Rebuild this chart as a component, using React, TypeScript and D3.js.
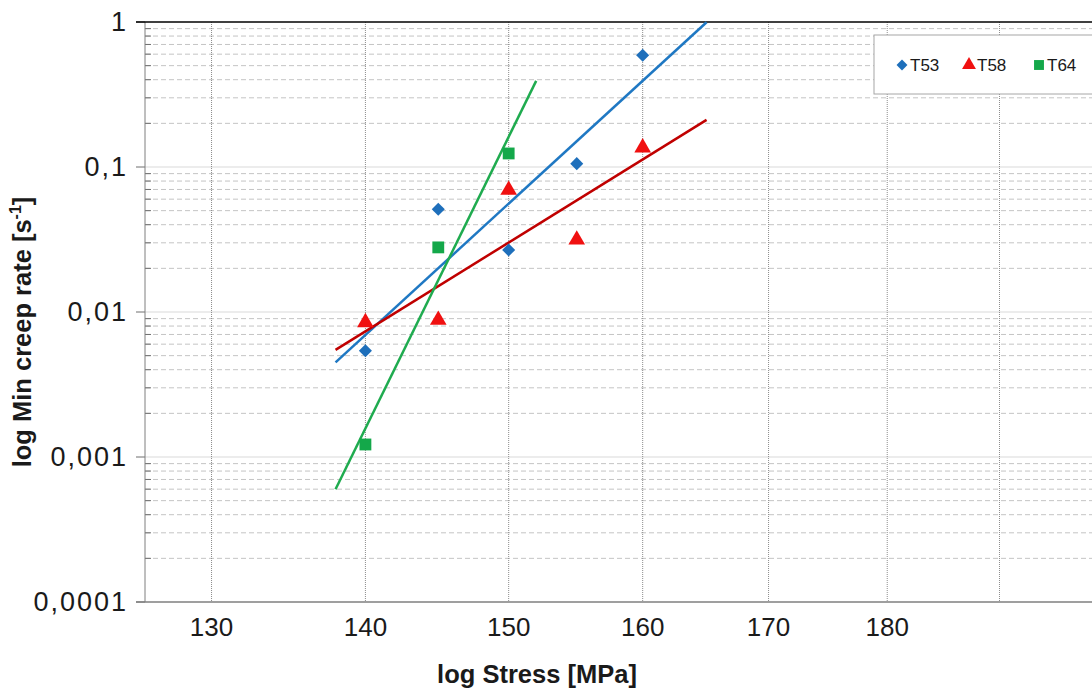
import React, { Component } from "react";
import * as d3 from "d3";

// stress levels [MPa] and minimum creep rates [1/s]
const stress = [140, 145, 150, 155, 160];
const t53 = [0.0054, 0.0512, 0.0268, 0.1055, 0.589];
const t58 = [0.00848, 0.0088, 0.0694, 0.0315, 0.136];
const stressT64 = [140, 145, 150];
const t64 = [0.00122, 0.0279, 0.124];

const seriesNames = ["T53", "T58", "T64"];
const trendFrom = [138, 138, 138];
const trendTo = [165, 165, 152];

const xTicks = [130, 140, 150, 160, 170, 180, 190];
const xTickLabels = ["130", "140", "150", "160", "170", "180", ""];
const yTicks = [0.0001, 0.001, 0.01, 0.1, 1];
const yTickLabels = ["0,0001", "0,001", "0,01", "0,1", "1"];

const FONT = "'Liberation Sans', Arial, sans-serif";

// power trend line: least squares on log-log
const powerFit = (xs: number[], ys: number[]) => {
  const lx = xs.map((v) => Math.log10(v));
  const ly = ys.map((v) => Math.log10(v));
  const mx = d3.mean(lx) as number;
  const my = d3.mean(ly) as number;
  const sxy = d3.sum(lx, (v, i) => (v - mx) * (ly[i] - my));
  const sxx = d3.sum(lx, (v) => (v - mx) * (v - mx));
  const b = sxy / sxx;
  return (xv: number) => Math.pow(10, my + b * (Math.log10(xv) - mx));
};

class CreepChart extends Component {
  chart = React.createRef<HTMLDivElement>();

  componentDidMount() {
    this.drawChart(this.chart);
  }

  drawChart = (element: React.RefObject<HTMLDivElement>) => {
    const width = 1092;
    const height = 689;
    const left = 145;
    const top = 22;
    const bottom = 602;

    d3.select(element.current).selectAll("*").remove();
    const svg = d3
      .select(element.current)
      .append("svg")
      .attr("width", width)
      .attr("height", height)
      .style("display", "block")
      .style("font-family", FONT);

    svg.append("rect").attr("width", width).attr("height", height).attr("fill", "#fff");

    const x = d3.scaleLog().domain([125.9, 200]).range([left, 1106]);
    const y = d3.scaleLog().domain([0.0001, 1]).range([bottom, top]);

    // minor horizontal grid
    const minor: number[] = [];
    yTicks.slice(0, -1).forEach((d) => {
      for (let m = 2; m <= 9; m++) minor.push(m * d);
    });
    svg
      .append("g")
      .selectAll("line")
      .data(minor)
      .enter()
      .append("line")
      .attr("x1", left)
      .attr("x2", width)
      .attr("y1", (d) => y(d))
      .attr("y2", (d) => y(d))
      .attr("stroke", "#c4c4c4")
      .attr("stroke-dasharray", "5,3");

    // major horizontal grid
    svg
      .append("g")
      .selectAll("line")
      .data(yTicks.slice(1, -1))
      .enter()
      .append("line")
      .attr("x1", left)
      .attr("x2", width)
      .attr("y1", (d) => y(d))
      .attr("y2", (d) => y(d))
      .attr("stroke", "#d9d9d9");

    // vertical grid
    svg
      .append("g")
      .selectAll("line")
      .data(xTicks)
      .enter()
      .append("line")
      .attr("x1", (d) => x(d))
      .attr("x2", (d) => x(d))
      .attr("y1", top)
      .attr("y2", bottom)
      .attr("stroke", "#8c8c8c")
      .attr("stroke-dasharray", "1,1");

    // minor ticks inside
    svg
      .append("g")
      .selectAll("line")
      .data(minor)
      .enter()
      .append("line")
      .attr("x1", left)
      .attr("x2", left + 6)
      .attr("y1", (d) => y(d))
      .attr("y2", (d) => y(d))
      .attr("stroke", "#6e6e6e");

    // major ticks outside
    svg
      .append("g")
      .selectAll("line")
      .data(yTicks)
      .enter()
      .append("line")
      .attr("x1", left - 9)
      .attr("x2", left)
      .attr("y1", (d) => y(d))
      .attr("y2", (d) => y(d))
      .attr("stroke", "#6e6e6e");

    // axes and top border
    svg.append("line").attr("x1", left).attr("x2", left).attr("y1", top).attr("y2", bottom).attr("stroke", "#7f7f7f");
    svg.append("line").attr("x1", left - 9).attr("x2", width).attr("y1", bottom).attr("y2", bottom).attr("stroke", "#7f7f7f").attr("stroke-width", 1.5);
    svg.append("line").attr("x1", left - 9).attr("x2", width).attr("y1", top).attr("y2", top).attr("stroke", "#000").attr("stroke-width", 1.5);

    // tick labels
    svg
      .append("g")
      .selectAll("text")
      .data(yTicks)
      .enter()
      .append("text")
      .attr("x", 128)
      .attr("y", (d) => y(d) + 9)
      .attr("text-anchor", "end")
      .attr("font-size", 27)
      .attr("letter-spacing", 2)
      .attr("fill", "#1a1a1a")
      .text((d, i) => yTickLabels[i]);

    svg
      .append("g")
      .selectAll("text")
      .data(xTicks)
      .enter()
      .append("text")
      .attr("x", (d) => x(d))
      .attr("y", 636)
      .attr("text-anchor", "middle")
      .attr("font-size", 26)
      .attr("fill", "#1a1a1a")
      .text((d, i) => xTickLabels[i]);

    // axis titles
    svg
      .append("text")
      .attr("x", 537)
      .attr("y", 683)
      .attr("text-anchor", "middle")
      .attr("font-size", 25.5)
      .attr("font-weight", "bold")
      .attr("fill", "#1a1a1a")
      .text("log Stress [MPa]");

    const yTitle = svg
      .append("text")
      .attr("transform", "translate(31,332) rotate(-90)")
      .attr("text-anchor", "middle")
      .attr("font-size", 25.5)
      .attr("font-weight", "bold")
      .attr("fill", "#1a1a1a");
    yTitle.append("tspan").text("log Min creep rate [s");
    yTitle.append("tspan").attr("font-size", 16).attr("dy", -10).text("-1");
    yTitle.append("tspan").attr("dy", 10).text("]");

    // series
    const seriesX = [stress, stress, stressT64];
    const seriesY = [t53, t58, t64];
    const lineColors = ["#1f78c3", "#c00000", "#1fab4f"];
    const markerColors = ["#1e6fbb", "#f01010", "#14a84a"];
    const symbols = [d3.symbolSquare, d3.symbolTriangle, d3.symbolSquare];
    const rotations = [45, 0, 0];
    const symbolSizes = [85, 120, 140];

    const plot = svg.append("g");

    seriesX.forEach((xs, s) => {
      const fit = powerFit(xs, seriesY[s]);
      const pts = [trendFrom[s], trendTo[s]].map((v) => [x(v), y(fit(v))] as [number, number]);
      plot
        .append("path")
        .attr("d", d3.line()(pts) as string)
        .attr("fill", "none")
        .attr("stroke", lineColors[s])
        .attr("stroke-width", 2.5);
    });

    seriesX.forEach((xs, s) => {
      plot
        .append("g")
        .selectAll("path")
        .data(xs)
        .enter()
        .append("path")
        .attr("transform", (d, i) => `translate(${x(d)},${y(seriesY[s][i])}) rotate(${rotations[s]})`)
        .attr("d", d3.symbol().type(symbols[s]).size(symbolSizes[s])() as string)
        .attr("fill", markerColors[s]);
    });

    // legend
    const legend = svg.append("g");
    legend
      .append("rect")
      .attr("x", 874)
      .attr("y", 35)
      .attr("width", 240)
      .attr("height", 59)
      .attr("fill", "#fff")
      .attr("stroke", "#a6a6a6");
    const legendX = [902, 969, 1039];
    seriesNames.forEach((name, s) => {
      legend
        .append("path")
        .attr("transform", `translate(${legendX[s]},65) rotate(${rotations[s]})`)
        .attr("d", d3.symbol().type(symbols[s]).size(symbolSizes[s] * 0.7)() as string)
        .attr("fill", markerColors[s]);
      legend
        .append("text")
        .attr("x", legendX[s] + 8)
        .attr("y", 71)
        .attr("font-size", 17)
        .attr("fill", "#1a1a1a")
        .text(name);
    });
  };

  render() {
    return <div ref={this.chart} style={{ position: "absolute", left: 0, top: 0 }}></div>;
  }
}

export default function App() {
  return <CreepChart />;
}
